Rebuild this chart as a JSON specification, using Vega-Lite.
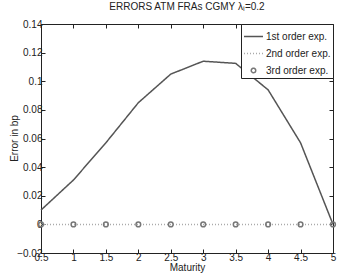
{
  "$schema": "https://vega.github.io/schema/vega-lite/v6.json",
  "width": 292,
  "height": 229,
  "autosize": "none",
  "padding": {"left": 41, "top": 24, "right": 8, "bottom": 26},
  "background": "white",
  "title": {"text": "ERRORS ATM FRAs CGMY λₗ=0.2", "font": "Liberation Sans", "fontSize": 10, "fontWeight": "normal", "color": "#222", "offset": 7},
  "config": {
    "view": {"stroke": "#222", "strokeWidth": 1},
    "axis": {"grid": false, "domain": false, "tickSize": -4, "tickColor": "#222", "labelFont": "Liberation Sans", "labelFontSize": 10, "labelColor": "#222", "labelOverlap": false, "labelFlush": false, "labelBound": false, "titleFont": "Liberation Sans", "titleFontSize": 10, "titleFontWeight": "normal", "titleColor": "#222"},
    "legend": {"labelFont": "Liberation Sans", "labelFontSize": 10, "labelColor": "#222"}
  },
  "data": {"values": [
    {"series": "1st order exp.", "maturity": 0.5, "error": 0.01},
    {"series": "1st order exp.", "maturity": 1, "error": 0.031},
    {"series": "1st order exp.", "maturity": 1.5, "error": 0.057},
    {"series": "1st order exp.", "maturity": 2, "error": 0.085},
    {"series": "1st order exp.", "maturity": 2.5, "error": 0.105},
    {"series": "1st order exp.", "maturity": 3, "error": 0.114},
    {"series": "1st order exp.", "maturity": 3.5, "error": 0.1125},
    {"series": "1st order exp.", "maturity": 4, "error": 0.094},
    {"series": "1st order exp.", "maturity": 4.5, "error": 0.057},
    {"series": "1st order exp.", "maturity": 5, "error": 0},
    {"series": "2nd order exp.", "maturity": 0.5, "error": 0},
    {"series": "2nd order exp.", "maturity": 1, "error": 0},
    {"series": "2nd order exp.", "maturity": 1.5, "error": 0},
    {"series": "2nd order exp.", "maturity": 2, "error": 0},
    {"series": "2nd order exp.", "maturity": 2.5, "error": 0},
    {"series": "2nd order exp.", "maturity": 3, "error": 0},
    {"series": "2nd order exp.", "maturity": 3.5, "error": 0},
    {"series": "2nd order exp.", "maturity": 4, "error": 0},
    {"series": "2nd order exp.", "maturity": 4.5, "error": 0},
    {"series": "2nd order exp.", "maturity": 5, "error": 0},
    {"series": "3rd order exp.", "maturity": 0.5, "error": 0},
    {"series": "3rd order exp.", "maturity": 1, "error": 0},
    {"series": "3rd order exp.", "maturity": 1.5, "error": 0},
    {"series": "3rd order exp.", "maturity": 2, "error": 0},
    {"series": "3rd order exp.", "maturity": 2.5, "error": 0},
    {"series": "3rd order exp.", "maturity": 3, "error": 0},
    {"series": "3rd order exp.", "maturity": 3.5, "error": 0},
    {"series": "3rd order exp.", "maturity": 4, "error": 0},
    {"series": "3rd order exp.", "maturity": 4.5, "error": 0},
    {"series": "3rd order exp.", "maturity": 5, "error": 0}
  ]},
  "resolve": {"scale": {"x": "independent", "y": "independent"}},
  "layer": [
    {
      "encoding": {
        "x": {"field": "maturity", "type": "quantitative", "scale": {"domain": [0.5, 5], "nice": false, "zero": false}, "axis": {"title": "Maturity", "values": [0.5, 1, 1.5, 2, 2.5, 3, 3.5, 4, 4.5, 5], "format": "~g", "titlePadding": 0, "labelPadding": 3, "labelOverlap": false, "labelSeparation": 0}},
        "y": {"field": "error", "type": "quantitative", "scale": {"domain": [-0.02, 0.14], "nice": false}, "axis": {"title": "Error in bp", "values": [-0.02, 0.0000000001, 0.02, 0.04, 0.06, 0.08, 0.1, 0.12, 0.14], "labelExpr": "abs(datum.value) < 1e-6 ? '0' : format(datum.value, '.2~f')", "labelPadding": 3, "labelOverlap": false, "labelSeparation": 0, "titleX": -22, "titleY": 114, "titleAngle": 270, "titleBaseline": "bottom", "titleAlign": "center"}}
      },
      "layer": [
        {
          "transform": [{"filter": "datum.series !== '3rd order exp.'"}],
          "mark": {"type": "line", "strokeWidth": 1.5},
          "encoding": {
            "color": {"field": "series", "type": "nominal", "scale": {"domain": ["1st order exp.", "2nd order exp.", "3rd order exp."], "range": ["#555555", "#aaaaaa", "#777777"]}, "legend": {"title": null, "orient": "top-right", "offset": 0, "fillColor": "white", "strokeColor": "#222", "padding": 2, "rowPadding": 1, "labelOffset": 2, "symbolStrokeWidth": 1.5, "symbolSize": 361, "symbolFillColor": "white", "encode": {"symbols": {"update": {"size": {"signal": "datum.value === '3rd order exp.' ? 20 : 361"}, "fill": {"value": "transparent"}, "fillOpacity": {"value": 0}}}}}},
            "strokeDash": {"field": "series", "type": "nominal", "scale": {"domain": ["1st order exp.", "2nd order exp.", "3rd order exp."], "range": [[1, 0], [1, 2], [1, 0]]}, "legend": {"title": null, "orient": "top-right"}},
            "shape": {"field": "series", "type": "nominal", "scale": {"domain": ["1st order exp.", "2nd order exp.", "3rd order exp."], "range": ["stroke", "stroke", "circle"]}, "legend": {"title": null, "orient": "top-right"}}
          }
        },
        {
          "transform": [{"filter": "datum.series === '3rd order exp.'"}],
          "mark": {"type": "point", "filled": false, "strokeWidth": 1.5, "size": 22, "opacity": 1},
          "encoding": {
            "color": {"field": "series", "type": "nominal", "legend": {"title": null, "orient": "top-right"}},
            "shape": {"field": "series", "type": "nominal", "legend": {"title": null, "orient": "top-right"}}
          }
        }
      ]
    },
    {
      "mark": {"type": "point", "opacity": 0},
      "encoding": {
        "x": {"field": "maturity", "type": "quantitative", "scale": {"domain": [0.5, 5], "nice": false, "zero": false}, "axis": {"orient": "top", "labels": false, "title": null, "values": [0.5, 1, 1.5, 2, 2.5, 3, 3.5, 4, 4.5, 5]}},
        "y": {"field": "error", "type": "quantitative", "scale": {"domain": [-0.02, 0.14], "nice": false}, "axis": {"orient": "right", "labels": false, "title": null, "values": [-0.02, 0.0000000001, 0.02, 0.04, 0.06, 0.08, 0.1, 0.12, 0.14]}}
      }
    }
  ]
}
